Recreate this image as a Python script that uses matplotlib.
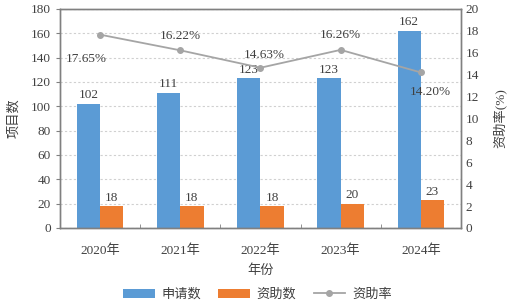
import numpy as np
import matplotlib
matplotlib.use("Agg")
import matplotlib.pyplot as plt
from matplotlib.ticker import MultipleLocator

plt.rcParams['font.family'] = ['Liberation Serif', 'Noto Sans CJK SC']

years = ["2020年", "2021年", "2022年", "2023年", "2024年"]
applied = [102, 111, 123, 123, 162]
funded = [18, 18, 18, 20, 23]
rate = [17.65, 16.22, 14.63, 16.26, 14.20]
rate_labels = ["17.65%", "16.22%", "14.63%", "16.26%", "14.20%"]

blue = "#5b9bd5"
orange = "#ed7d31"
grey = "#a5a5a5"

fig = plt.figure(figsize=(5.15, 3.08), dpi=100)
ax = fig.add_axes([0.1165, 0.26, 0.7785, 0.711])
ax2 = ax.twinx()

x = np.arange(len(years))
w = 0.29
b1 = ax.bar(x - w / 2, applied, w, color=blue, label="申请数", zorder=2)
b2 = ax.bar(x + w / 2, funded, w, color=orange, label="资助数", zorder=2)
for xi, v in zip(x, applied):
    ax.text(xi - w / 2, v + 2, str(v), ha="center", va="bottom", fontsize=9.5, color="#404040")
for xi, v in zip(x, funded):
    ax.text(xi + w / 2, v + 2, str(v), ha="center", va="bottom", fontsize=9.5, color="#404040")

ax2.plot(x, rate, color=grey, lw=1.3, marker="o", ms=4, label="资助率", zorder=3)
offsets = [(-0.17, -1.7, "center", "top"), (0, 0.8, "center", "bottom"),
           (0.05, 0.6, "center", "bottom"), (0, 0.8, "center", "bottom"),
           (0.12, -1.2, "center", "top")]
for xi, v, lab, (dx, dy, ha, va) in zip(x, rate, rate_labels, offsets):
    ax2.text(xi + dx, v + dy, lab, ha=ha, va=va, fontsize=9.5, color="#404040")

ax.set_xlim(-0.5, 4.5)
ax.set_ylim(0, 180)
ax.yaxis.set_major_locator(MultipleLocator(20))
ax2.set_ylim(0, 20)
ax2.yaxis.set_major_locator(MultipleLocator(2))

ax.set_xticks(x)
ax.set_xticklabels(years, fontsize=9.5, color="#404040")
ax.set_xticks(np.arange(-0.5, 5, 1), minor=True)
ax.tick_params(axis="x", which="major", length=0, pad=12)
ax.tick_params(axis="x", which="minor", direction="in", length=3, color="#808080")
ax.tick_params(axis="y", labelsize=9.5, labelcolor="#404040", color="#808080", length=3)
ax2.tick_params(axis="y", labelsize=9.5, labelcolor="#404040", color="#808080", length=0)

ax.grid(axis="y", ls=(0, (2, 2)), color="#d0d0d0", lw=0.8, zorder=0)
ax.set_axisbelow(True)
for a in (ax, ax2):
    for s in a.spines.values():
        s.set_color("#808080")
        s.set_linewidth(1.0)

ax.set_xlabel("年份", fontsize=9.5, color="#404040", labelpad=5)
ax.set_ylabel("项目数", fontsize=9.5, color="#404040", labelpad=8)
ax2.set_ylabel("资助率(%)", fontsize=9.5, color="#404040", rotation=90, labelpad=10)

handles = [b1, b2, ax2.get_lines()[0]]
fig.legend(handles, [h.get_label() for h in handles], loc="lower center",
           bbox_to_anchor=(0.5, -0.015), ncol=3, frameon=False, fontsize=9.5,
           handlelength=2.4, handletextpad=0.5, columnspacing=1.3, labelcolor="#404040")

fig.savefig("out.png", dpi=100)
